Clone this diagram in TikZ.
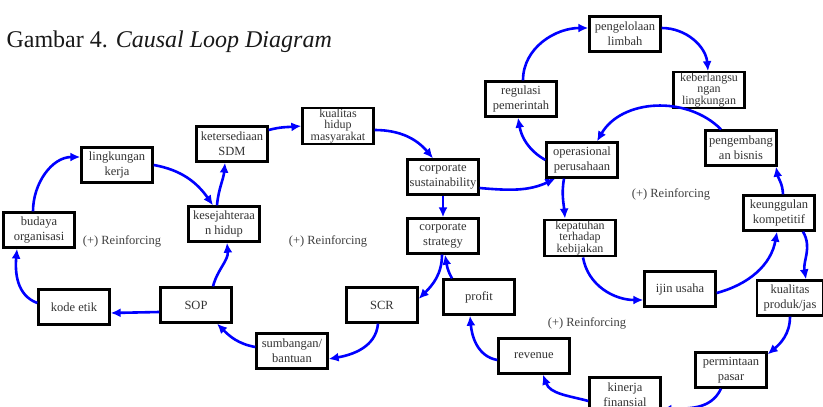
\documentclass[tikz,border=0pt]{standalone}
\usepackage{fontspec}
\setmainfont{Liberation Serif}
\usepackage{tikz}
\usetikzlibrary{arrows.meta}

\tikzset{
  box/.style={draw=black, line width=2.3pt, fill=white, minimum width=71pt, minimum height=35pt,
    inner sep=1pt, align=center, text=black!80, font=\fontsize{12.5}{15}\selectfont},
  tightbox/.style={box, font=\fontsize{12}{10.6}\selectfont},
  lnk/.style={draw=blue, line width=2.6pt, ->, >={Latex[length=10pt,width=9pt]}},
  loopname/.style={text=black!75, font=\fontsize{12.5}{15}\selectfont}
}

\begin{document}
\begin{tikzpicture}[x=1pt,y=1pt]
\clip (0,0) rectangle (823,-407);
\fill[white] (0,0) rectangle (823,-407);

\node[anchor=west, text=black!90, font=\fontsize{24}{28}\selectfont] (title) at (3,-42) {Gambar 4. \textit{Causal Loop Diagram}};

% left loops
\node[box] (bud) at (39,-230) {budaya\\organisasi};
\node[box] (lingk) at (117,-165) {lingkungan\\kerja};
\node[box] (kes) at (224,-224) {kesejahteraa\\n hidup};
\node[box] (ket) at (232,-144) {ketersediaan\\SDM};
\node[tightbox] (kual) at (338,-126) {kualitas\\hidup\\masyarakat};
\node[box] (cs) at (443,-177) {corporate\\sustainability};
\node[box] (cstr) at (443,-236) {corporate\\strategy};
\node[box] (kode) at (74,-307) {kode etik};
\node[box] (sop) at (196,-305) {SOP};
\node[box] (scr) at (382,-305) {SCR};
\node[box] (sum) at (292,-351) {sumbangan/\\bantuan};

% right loops
\node[box] (prof) at (479,-297) {profit};
\node[box] (rev) at (534,-356) {revenue};
\node[box] (kin) at (625,-395) {kinerja\\finansial};
\node[box] (per) at (731,-370) {permintaan\\pasar};
\node[box, minimum width=66pt] (kpj) at (790,-298) {kualitas\\produk/jas};
\node[box] (ijin) at (680,-289) {ijin usaha};
\node[box] (kung) at (779,-213) {keunggulan\\kompetitif};
\node[box] (pgb) at (741,-148) {pengembang\\an bisnis};
\node[box] (ops) at (582,-160) {operasional\\perusahaan};
\node[tightbox] (kep) at (580,-238) {kepatuhan\\terhadap\\kebijakan};
\node[box] (reg) at (521,-99) {regulasi\\pemerintah};
\node[box] (pgl) at (625,-34) {pengelolaan\\limbah};
\node[tightbox] (kbl) at (709,-90) {keberlangsu\\ngan\\lingkungan};

\node[loopname] (r1) at (122,-241) {(+) Reinforcing};
\node[loopname] (r2) at (328,-241) {(+) Reinforcing};
\node[loopname] (r3) at (671,-194) {(+) Reinforcing};
\node[loopname] (r4) at (587,-323) {(+) Reinforcing};

% connectors
\draw[lnk] ([xshift=-6pt]bud.north) to[out=90, in=180] ([yshift=8pt]lingk.west);
\draw[lnk] (lingk.east) to[out=-10, in=125] ([xshift=-11pt]kes.north);
\draw[lnk] ([xshift=-7pt]kes.north) to[out=85, in=-95] ([xshift=-7pt]ket.south);
\draw[lnk] ([yshift=14pt]ket.east) to[out=15, in=185] (kual.west);
\draw[lnk] ([yshift=-4pt]kual.east) to[out=0, in=130] ([xshift=-10pt]cs.north);
\draw[lnk] (cs.south) -- (cstr.north);
\draw[lnk] ([yshift=-11pt]cs.east) to[out=-5, in=205] ([xshift=10pt]ops.south west);
\draw[lnk] (ops.west) to[out=150, in=-80] ([xshift=-3pt]reg.south);
\draw[lnk] ([xshift=2pt]reg.north) to[out=90, in=180] ([yshift=6pt]pgl.west);
\draw[lnk] ([yshift=6pt]pgl.east) to[out=0, in=95] ([xshift=-1pt]kbl.north);
\draw[lnk] ([xshift=-20pt]pgb.north) to[out=135, in=60] ([xshift=15pt]ops.north);
\draw[lnk] ([xshift=4pt]kung.north) to[out=92, in=-80] ([xshift=35pt]pgb.south);
\draw[lnk] ([yshift=-4pt]ijin.east) to[out=15, in=-100] ([xshift=-2pt]kung.south);
\draw[lnk] ([xshift=24pt]kung.south) to[out=-60, in=100] ([xshift=16pt]kpj.north);
\draw[lnk] (kpj.south) to[out=-90, in=40] ([yshift=-3pt]per.north east);
\draw[lnk] ([xshift=-10pt]per.south) to[out=-115, in=5] ([yshift=-15pt]kin.east);
\draw[lnk] ([yshift=-6pt]kin.west) to[out=165, in=-70] ([xshift=9pt]rev.south);
\draw[lnk] ([yshift=-4pt]rev.west) to[out=170, in=-85] ([xshift=-9pt]prof.south);
\draw[lnk] ([xshift=-27pt]prof.north) to[out=120, in=-80] ([xshift=2pt]cstr.south);
\draw[lnk] ([xshift=-1pt]cstr.south) to[out=-90, in=45] ([yshift=6pt]scr.east);
\draw[lnk] ([xshift=-4pt]scr.south) to[out=-95, in=10] ([yshift=-8pt]sum.east);
\draw[lnk] ([yshift=4pt]sum.west) to[out=170, in=-45] ([xshift=21pt]sop.south);
\draw[lnk] ([xshift=17pt]sop.north) to[out=75, in=-85] ([xshift=3pt]kes.south);
\draw[lnk] ([yshift=-7pt]sop.west) -- ([yshift=-6pt]kode.east);
\draw[lnk] ([yshift=4pt]kode.west) to[out=160, in=-95] ([xshift=-22pt]bud.south);
\draw[lnk] ([xshift=-18pt]ops.south) to[out=-100, in=95] ([xshift=-15pt]kep.north);
\draw[lnk] ([xshift=3pt]kep.south) to[out=-80, in=180] ([yshift=-11pt]ijin.west);
\end{tikzpicture}
\end{document}
